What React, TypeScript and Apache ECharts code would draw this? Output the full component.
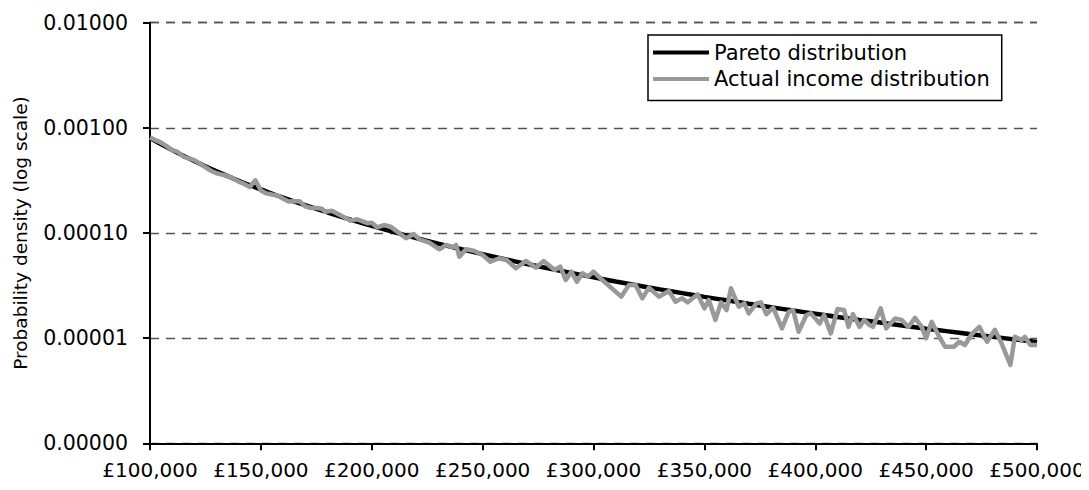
import React, { useEffect, useRef } from "react";
import * as echarts from "echarts";

const xTicks = [100000, 150000, 200000, 250000, 300000, 350000, 400000, 450000, 500000];
const yTicks = [0.000001, 0.00001, 0.0001, 0.001, 0.01];

const paretoIncome = [
  100000, 110000, 120000, 130000, 140000, 150000, 160000, 170000, 180000, 190000,
  200000, 210000, 220000, 230000, 240000, 250000, 260000, 270000, 280000, 290000,
  300000, 310000, 320000, 330000, 340000, 350000, 360000, 370000, 380000, 390000,
  400000, 410000, 420000, 430000, 440000, 450000, 460000, 470000, 480000, 490000, 500000,
];
const paretoDensity = [
  8.0e-4, 6.14e-4, 4.83e-4, 3.86e-4, 3.14e-4, 2.6e-4, 2.17e-4, 1.84e-4, 1.57e-4, 1.35e-4,
  1.17e-4, 1.02e-4, 8.97e-5, 7.93e-5, 7.05e-5, 6.29e-5, 5.64e-5, 5.08e-5, 4.6e-5, 4.17e-5,
  3.79e-5, 3.46e-5, 3.17e-5, 2.91e-5, 2.68e-5, 2.47e-5, 2.29e-5, 2.12e-5, 1.97e-5, 1.83e-5,
  1.71e-5, 1.59e-5, 1.49e-5, 1.4e-5, 1.31e-5, 1.23e-5, 1.16e-5, 1.09e-5, 1.03e-5, 9.72e-6, 9.19e-6,
];

const actualIncome = [
  100000, 102500, 105000, 107500, 110000, 112500, 115000, 117500, 120000, 122500,
  125000, 127500, 130000, 132500, 135000, 137500, 140000, 142500, 145000, 147500,
  150000, 152500, 155000, 157500, 160000, 162500, 165000, 167500, 170000, 172500,
  175000, 177500, 179000, 182000, 186500, 190500, 193500, 198000, 200000, 202500,
  205500, 208500, 211500, 215500, 219000, 221500, 226000, 230500, 233500, 236500,
  238000, 239500, 242500, 246000, 250000, 253500, 257500, 261000, 265000, 269500,
  274000, 277500, 282500, 285000, 287500, 290000, 292500, 295000, 297500, 300000,
  304000, 312500, 316000, 319000, 322000, 325000, 329500, 334000, 337000, 340000,
  342500, 347000, 350000, 352000, 355000, 357500, 360000, 362000, 365500, 368000,
  370000, 373500, 375500, 378000, 381000, 385000, 388000, 390000, 392500, 396000,
  398000, 402000, 404000, 407000, 410000, 413000, 415000, 417000, 420000, 422000,
  424500, 426000, 429500, 432000, 436000, 439000, 442000, 445000, 448000, 450000,
  452500, 455500, 458500, 462500, 465000, 467500, 470500, 474000, 477500, 481000,
  484000, 488000, 490000, 493000, 494500, 497000, 500000,
];
const actualDensity = [
  8.09e-4, 7.65e-4, 7.24e-4, 6.71e-4, 6.14e-4, 5.91e-4, 5.32e-4, 5.12e-4, 4.93e-4, 4.56e-4,
  4.22e-4, 3.91e-4, 3.7e-4, 3.59e-4, 3.48e-4, 3.31e-4, 3.08e-4, 2.93e-4, 2.74e-4, 3.17e-4,
  2.54e-4, 2.38e-4, 2.32e-4, 2.27e-4, 2.12e-4, 1.99e-4, 2.0e-4, 2.0e-4, 1.79e-4, 1.73e-4,
  1.73e-4, 1.7e-4, 1.59e-4, 1.63e-4, 1.45e-4, 1.31e-4, 1.35e-4, 1.24e-4, 1.25e-4, 1.13e-4,
  1.19e-4, 1.15e-4, 1.03e-4, 8.9e-5, 9.78e-5, 8.71e-5, 8.09e-5, 7.0e-5, 7.69e-5, 7.31e-5,
  7.69e-5, 5.95e-5, 7.0e-5, 6.79e-5, 6.18e-5, 5.33e-5, 5.75e-5, 5.5e-5, 4.62e-5, 5.42e-5,
  4.68e-5, 5.42e-5, 4.45e-5, 4.78e-5, 3.57e-5, 4.29e-5, 3.44e-5, 4.14e-5, 3.84e-5, 4.29e-5,
  3.57e-5, 2.48e-5, 3.2e-5, 3.2e-5, 2.39e-5, 3.02e-5, 2.48e-5, 2.81e-5, 2.22e-5, 2.39e-5,
  2.19e-5, 2.61e-5, 1.92e-5, 2.31e-5, 1.49e-5, 2.19e-5, 1.85e-5, 2.98e-5, 1.99e-5, 2.14e-5,
  1.72e-5, 2.14e-5, 2.19e-5, 1.69e-5, 1.95e-5, 1.24e-5, 1.78e-5, 1.85e-5, 1.15e-5, 1.66e-5,
  1.72e-5, 1.38e-5, 1.66e-5, 1.11e-5, 1.89e-5, 1.85e-5, 1.28e-5, 1.69e-5, 1.28e-5, 1.49e-5,
  1.33e-5, 1.28e-5, 1.92e-5, 1.24e-5, 1.54e-5, 1.49e-5, 1.28e-5, 1.56e-5, 1.28e-5, 9.97e-6,
  1.43e-5, 1.07e-5, 8.29e-6, 8.29e-6, 9.25e-6, 8.61e-6, 1.09e-5, 1.28e-5, 9.25e-6, 1.2e-5,
  8.93e-6, 5.56e-6, 1.03e-5, 9.6e-6, 1.03e-5, 8.61e-6, 8.61e-6,
];

const FONT = "DejaVu Sans";

export default function App() {
  const ref = useRef<HTMLDivElement>(null);
  useEffect(() => {
    if (!ref.current) return;
    const chart = echarts.init(ref.current, null, { renderer: "svg" });
    chart.setOption({
      animation: false,
      backgroundColor: "#fff",
      textStyle: { fontFamily: FONT },
      grid: { left: 150, right: 52, top: 22.7, bottom: 46.7, containLabel: false },
      legend: {
        orient: "vertical",
        left: 648,
        top: 35,
        icon: "rect",
        itemWidth: 56,
        itemHeight: 4,
        itemGap: 1.5,
        padding: [5, 12, 9, 5],
        borderColor: "#000",
        borderWidth: 1.5,
        borderRadius: 0,
        backgroundColor: "#fff",
        textStyle: { fontFamily: FONT, fontSize: 21, lineHeight: 25, color: "#000" },
        data: ["Pareto distribution", "Actual income distribution"],
      },
      xAxis: {
        type: "value",
        min: xTicks[0],
        max: xTicks[xTicks.length - 1],
        interval: 50000,
        axisLine: { show: true, lineStyle: { color: "#000", width: 2 } },
        axisTick: { show: true, length: 7, lineStyle: { color: "#000", width: 2 } },
        axisLabel: {
          fontFamily: FONT,
          fontSize: 20,
          color: "#000",
          margin: 17,
          formatter: (v: number) => "£" + v.toLocaleString("en-GB"),
        },
        splitLine: { show: false },
      },
      yAxis: {
        type: "log",
        logBase: 10,
        min: yTicks[0],
        max: yTicks[yTicks.length - 1],
        name: "Probability density (log scale)",
        nameLocation: "middle",
        nameGap: 120,
        nameTextStyle: { fontFamily: FONT, fontSize: 18.5, color: "#000" },
        axisLine: { show: true, lineStyle: { color: "#000", width: 2 } },
        axisTick: { show: true, length: 7, lineStyle: { color: "#000", width: 2 } },
        axisLabel: {
          fontFamily: FONT,
          fontSize: 20.5,
          color: "#000",
          margin: 22,
          formatter: (v: number) => v.toFixed(5),
        },
        splitLine: { show: true, lineStyle: { color: "#555", width: 1.3, type: [9, 7] } },
      },
      series: [
        {
          name: "Pareto distribution",
          type: "line",
          smooth: true,
          showSymbol: false,
          data: paretoIncome.map((x, i) => [x, paretoDensity[i]]),
          lineStyle: { color: "#000", width: 4.5 },
          itemStyle: { color: "#000" },
        },
        {
          name: "Actual income distribution",
          type: "line",
          showSymbol: false,
          data: actualIncome.map((x, i) => [x, actualDensity[i]]),
          lineStyle: { color: "#999", width: 4.5, join: "round" },
          itemStyle: { color: "#999" },
        },
      ],
    });
    return () => chart.dispose();
  }, []);
  return <div ref={ref} style={{ width: 1089, height: 490, margin: -8 }} />;
}
